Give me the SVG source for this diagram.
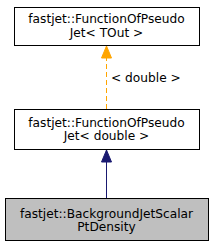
<svg xmlns="http://www.w3.org/2000/svg" width="213" height="247" viewBox="0 0 213 247">
<style>
text{font-family:"DejaVu Sans",sans-serif;font-size:12.2px;text-anchor:middle;fill:#000}
.box{fill:#fff;stroke:#000;stroke-width:1}
</style>
<g id="connectors">
<line x1="106.5" y1="109" x2="106.5" y2="46" stroke="orange" stroke-dasharray="5,3"/>
<path d="M101.5,58 L106.5,46 L111.5,58 Z" fill="orange" stroke="orange"/>
<text x="111" y="81.5" style="text-anchor:start">&lt; double &gt;</text>
<line x1="106.5" y1="198" x2="106.5" y2="150" stroke="midnightblue"/>
<path d="M101.5,162 L106.5,150 L111.5,162 Z" fill="midnightblue" stroke="midnightblue"/>
</g>
<g id="node1">
<rect class="box" x="14.5" y="7.5" width="185" height="38"/>
<text x="106.5" y="23">fastjet::FunctionOfPseudo</text>
<text x="106.5" y="36.5">Jet&lt; TOut &gt;</text>
</g>
<g id="node2">
<rect class="box" x="14.5" y="109.5" width="185" height="40"/>
<text x="106.5" y="126.5">fastjet::FunctionOfPseudo</text>
<text x="106.5" y="140">Jet&lt; double &gt;</text>
</g>
<g id="node3">
<rect x="5.5" y="198.5" width="203" height="42" fill="#bfbfbf" stroke="#000"/>
<text x="106.5" y="218">fastjet::BackgroundJetScalar</text>
<text x="106.5" y="231">PtDensity</text>
</g>
</svg>
